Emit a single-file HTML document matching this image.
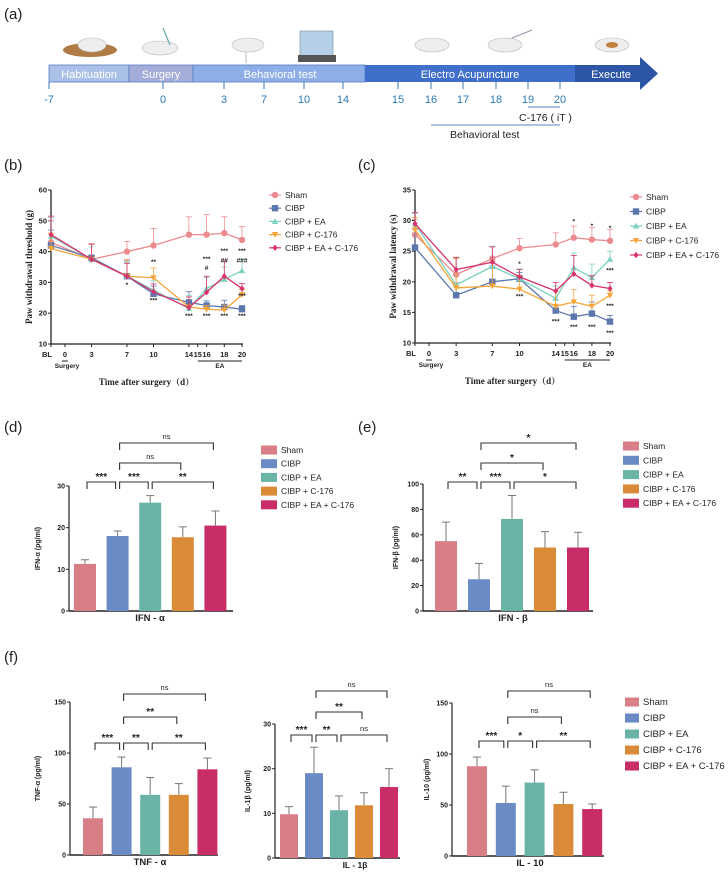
<!DOCTYPE html>
<html><head><meta charset="utf-8"><style>
html,body{margin:0;padding:0;background:#fff}
svg{display:block;font-family:"Liberation Sans",Arial,sans-serif}
</style></head><body>
<svg id="fig" width="728" height="876" viewBox="0 0 728 876" xmlns="http://www.w3.org/2000/svg">
<g>
<text x="4" y="19" font-size="15" fill="#222">(a)</text>
<g fill="#eeeeee" stroke="#bbb" stroke-width="0.6">
<ellipse cx="90" cy="50" rx="27" ry="7" fill="#b07a44" stroke="none"/>
<ellipse cx="92" cy="45" rx="14" ry="7"/>
<ellipse cx="160" cy="48" rx="18" ry="7"/>
<line x1="163" y1="28" x2="170" y2="45" stroke="#6aa" stroke-width="1.2"/>
<ellipse cx="248" cy="45" rx="16" ry="7"/>
<line x1="246" y1="52" x2="246" y2="63" stroke="#888"/>
<rect x="300" y="31" width="33" height="26" fill="#b5cfe6" stroke="#789"/>
<rect x="298" y="55" width="38" height="7" fill="#555" stroke="none"/>
<ellipse cx="432" cy="45" rx="17" ry="7"/>
<ellipse cx="505" cy="45" rx="17" ry="7"/>
<line x1="512" y1="38" x2="532" y2="30" stroke="#99a" stroke-width="1.2"/>
<ellipse cx="612" cy="45" rx="17" ry="7"/>
<ellipse cx="612" cy="45" rx="6" ry="3" fill="#c08040" stroke="none"/>
</g>
<rect x="49" y="65" width="80" height="17" fill="#aac0e8" stroke="#5a7cc0" stroke-width="0.8"/>
<rect x="129" y="65" width="64" height="17" fill="#a4acd9" stroke="#5a7cc0" stroke-width="0.8"/>
<rect x="193" y="65" width="172" height="17" fill="#8eaee8" stroke="#5a7cc0" stroke-width="0.8"/>
<rect x="365" y="65" width="210" height="17" fill="#3f6ecb"/>
<polygon points="575,65 640,65 640,57 658,73.5 640,90 640,82 575,82" fill="#2c55a6"/>
<g font-size="11" fill="#fff" text-anchor="middle">
<text x="89" y="78">Habituation</text>
<text x="161" y="78">Surgery</text>
<text x="280" y="78">Behavioral test</text>
<text x="470" y="78">Electro Acupuncture</text>
<text x="611" y="78">Execute</text>
</g>
<g id="tl-ticks"></g>
<line x1="528" y1="107" x2="560" y2="107" stroke="#5a7cc0" stroke-width="1"/>
<text x="519" y="121" font-size="10.5" fill="#222">C-176 ( iT )</text>
<line x1="431" y1="125" x2="560" y2="125" stroke="#7f9bd0" stroke-width="1.2"/>
<text x="450" y="138" font-size="10.5" fill="#222">Behavioral test</text>
</g>
<text x="4" y="170" font-size="15" fill="#222">(b)</text>
<text x="358" y="170" font-size="15" fill="#222">(c)</text>
<text x="4" y="432" font-size="15" fill="#222">(d)</text>
<text x="358" y="432" font-size="15" fill="#222">(e)</text>
<text x="4" y="662" font-size="15" fill="#222">(f)</text>
<g id="charts"></g>
</svg>
<script>
const tlDays = [-7,0,3,7,10,14,15,16,17,18,19,20];
const tlDayPx = [49,163,224,264,304,343,398,431,463,496,528,560];

const daysLabels = ["BL","0","3","7","10","14","15","16","18","20"];
const ptDays = [null,3,7,10,14,16,18,20];
const bSham = [43,37.5,40,42,45.5,45.5,46,43.8];
const bShamErr = [7,5,3.3,5.5,5.8,6.5,5.3,4.3];
const bCIBP = [42,38,32,26.3,23.5,22.5,22,21.3];
const bCIBPErr = [5,4.5,5,2.5,3.5,1.5,2.2,1.2];
const bEA = [45,37.5,32,27.5,21.5,28,31,33.8];
const bEAErr = [6,4,4.5,3,4.3,3.6,4,3.7];
const bC176 = [41,37.5,32,31.5,22,21.3,21,26];
const bC176Err = [5,4.8,5.4,3.2,3.3,1.2,1.6,1.7];
const bEAC = [45.5,37.5,32,27,21.8,26.8,32,28];
const bEACErr = [6,5,4.2,2.5,3.5,5.2,5,1.6];

const cSham = [27.7,21.2,23.8,25.5,26.1,27.2,26.9,26.7];
const cShamErr = [2.5,2.8,2,1.6,1.9,1.9,2,1.9];
const cCIBP = [25.6,17.8,20,20.5,15.3,14.3,14.8,13.5];
const cCIBPErr = [3,2,2.6,1,0.9,1.7,1.9,1];
const cEA = [29.5,19.5,22.5,20.5,17.3,22.3,20.7,23.7];
const cEAErr = [1.7,4.5,3.3,1.6,2,2.4,2.2,1.3];
const cC176 = [28.5,19,19.3,18.8,16,16.7,16,17.8];
const cC176Err = [2,4.8,4,2.3,2.6,2,1.8,0.7];
const cEAC = [29.5,22,23.2,20.8,18.5,21.3,19.4,18.9];
const cEACErr = [1.8,2,2.5,1.2,1.4,3,1.6,1];

const groups = ["Sham","CIBP","CIBP + EA","CIBP + C-176","CIBP + EA + C-176"];
const ifnA = [11.3,18,26,17.7,20.5];
const ifnAErr = [1,1.2,1.7,2.5,3.5];
const ifnB = [55,25,72.5,50,50];
const ifnBErr = [15,12.5,18.5,12.5,12];
const tnf = [36,86,59,59,84];
const tnfErr = [11,10,17,11,11];
const il1b = [9.8,19,10.7,11.8,15.9];
const il1bErr = [1.7,5.8,3.2,2.8,4.1];
const il10 = [88,52,72,51,46];
const il10Err = [9,16.5,12.5,11.5,5];

const NS = "http://www.w3.org/2000/svg";
function mk(tag, attrs, parent){ const e=document.createElementNS(NS,tag); for(const k in attrs) e.setAttribute(k,attrs[k]); if(parent) parent.appendChild(e); return e; }
function txt(parent, x, y, s, size, extra){ const t=mk('text',Object.assign({x:x,y:y,'font-size':size,fill:'#222'},extra||{}),parent); t.textContent=s; return t; }

const tl = document.getElementById('tl-ticks');
tlDays.forEach((d,i)=>{
  const x = tlDayPx[i];
  const l = mk('line',{x1:x,y1:82,x2:x,y2:89,stroke:'#3a7ab8','stroke-width':1},tl);
  
  
  const t = txt(tl,x,103,String(d),11,{'text-anchor':'middle',fill:'#2a7ab8'});
  
  
});

const charts = document.getElementById('charts');
const lineColors = ["#ea8b8f","#5c77ad","#7dd1bf","#f5a53c","#d7336c"];
const markers = ["circle","square","tri","tridown","diamond"];

function marker(g, type, x, y, c, s){
  let e;
  if(type==='circle') e=mk('circle',{cx:x,cy:y,r:s,fill:c},g);
  else if(type==='square') e=mk('rect',{x:x-s,y:y-s,width:2*s,height:2*s,fill:c},g);
  else if(type==='tri') e=mk('polygon',{points:`${x},${y-s} ${x+s},${y+s*0.8} ${x-s},${y+s*0.8}`,fill:c},g);
  else if(type==='tridown') e=mk('polygon',{points:`${x},${y+s} ${x+s},${y-s*0.8} ${x-s},${y-s*0.8}`,fill:c},g);
  else e=mk('polygon',{points:`${x},${y-s} ${x+s*0.8},${y} ${x},${y+s} ${x-s*0.8},${y}`,fill:c},g);
  return e;
}

function lineChart(cfg){
  const g = mk('g',{},charts);
  
  
  const yS = v => cfg.yBot - (v-cfg.vmin)/(cfg.vmax-cfg.vmin)*(cfg.yBot-cfg.yTop);
  const xS = d => d===null ? cfg.ax : cfg.x0 + d*cfg.perDay;
  mk('line',{x1:cfg.ax,y1:cfg.yTop,x2:cfg.ax,y2:cfg.yBot,stroke:'#222','stroke-width':1.3},g);
  mk('line',{x1:cfg.ax,y1:cfg.yBot,x2:xS(20)+1,y2:cfg.yBot,stroke:'#222','stroke-width':1.3},g);
  cfg.yTicks.forEach(v=>{
    const y=yS(v);
    mk('line',{x1:cfg.ax-3,y1:y,x2:cfg.ax,y2:y,stroke:'#222','stroke-width':1},g);
    const t=txt(g,cfg.ax-4,y+2.5,String(v),7.5,{'text-anchor':'end','font-weight':'bold'});
    
    
  });
  daysLabels.forEach(lbl=>{
    const x = lbl==='BL'? cfg.ax : xS(+lbl);
    mk('line',{x1:x,y1:cfg.yBot,x2:x,y2:cfg.yBot+3,stroke:'#222','stroke-width':1},g);
    const t=txt(g,lbl==='BL'?x-4:x,cfg.yBot+13,lbl,7.5,{'text-anchor':'middle','font-weight':'bold'});
    
    
  });
  mk('line',{x1:xS(0)-3,y1:cfg.yBot+17,x2:xS(0)+3,y2:cfg.yBot+17,stroke:'#222','stroke-width':1},g);
  txt(g,xS(0)+2,cfg.yBot+24,'Surgery',6.5,{'text-anchor':'middle','font-weight':'bold'});
  mk('line',{x1:xS(15),y1:cfg.yBot+17,x2:xS(20),y2:cfg.yBot+17,stroke:'#222','stroke-width':1},g);
  txt(g,(xS(15)+xS(20))/2,cfg.yBot+24,'EA',6.5,{'text-anchor':'middle','font-weight':'bold'});
  const xt=txt(g,(cfg.ax+xS(20))/2,cfg.yBot+41,'Time after surgery（d）',9,{'text-anchor':'middle','font-weight':'bold','font-family':'"Liberation Serif","Noto Serif CJK SC",serif'});
  
  
  const yt=txt(g,0,0,cfg.ytitle,9,{'text-anchor':'middle','font-weight':'bold','font-family':'"Liberation Serif",serif',transform:`translate(${cfg.ytx},${(cfg.yTop+cfg.yBot)/2}) rotate(-90)`});
  
  
  cfg.series.forEach((s,si)=>{
    const sg = mk('g',{},g);
    
    
    const c = lineColors[si];
    s.vals.forEach((v,i)=>{
      const x=xS(ptDays[i]), y=yS(v), ye=yS(v+s.err[i]);
      mk('line',{x1:x,y1:y,x2:x,y2:ye,stroke:c,'stroke-width':0.8},sg);
      mk('line',{x1:x-3,y1:ye,x2:x+3,y2:ye,stroke:c,'stroke-width':0.8},sg);
    });
    const pts = s.vals.map((v,i)=>`${xS(ptDays[i])},${yS(v)}`).join(' ');
    const pl = mk('polyline',{points:pts,fill:'none',stroke:c,'stroke-width':1.3},sg);
    
    
    s.vals.forEach((v,i)=>{
      const m = marker(sg,markers[si],xS(ptDays[i]),yS(v),c,3.2);
      
      
    });
  });
  (cfg.sig||[]).forEach(a=>{
    const t=txt(g,xS(a[0]),yS(a[1]),a[2],6.5,{'text-anchor':'middle','font-weight':'bold'});
    
    
  });
  const lg = mk('g',{},g);
  
  
  groups.forEach((n,i)=>{
    const y = cfg.legY + i*cfg.legDy;
    mk('line',{x1:cfg.legX-6,y1:y,x2:cfg.legX+6,y2:y,stroke:lineColors[i],'stroke-width':1.2},lg);
    marker(lg,markers[i],cfg.legX,y,lineColors[i],3.2);
    const t=txt(lg,cfg.legX+10,y+3,n,8.5,{});
    
    
  });
}

const mkSeries = (a,b,c,d,e,ae,be,ce,de,ee)=>[{vals:a,err:ae},{vals:b,err:be},{vals:c,err:ce},{vals:d,err:de},{vals:e,err:ee}];

lineChart({name:'withdrawal-threshold-chart',ax:51,x0:65,perDay:8.85,yTop:190,yBot:344,vmin:10,vmax:60,yTicks:[10,20,30,40,50,60],
  ytitle:'Paw withdrawal threshold (g)',ytx:32,legX:275,legY:195,legDy:13.2,
  series:mkSeries(bSham,bCIBP,bEA,bC176,bEAC,bShamErr,bCIBPErr,bEAErr,bC176Err,bEACErr),
  sig:[[7,28.5,'*'],[10,36,'**'],[10,23.5,'***'],[14,18.5,'***'],[16,18.5,'***'],[16,37,'***'],[16,34,'#'],[18,18.5,'***'],[18,39.5,'***'],[18,36.5,'##'],[20,18.5,'***'],[20,39.5,'***'],[20,36.5,'###'],[20,25,'***']]});

lineChart({name:'withdrawal-latency-chart',ax:415,x0:429,perDay:9.05,yTop:190,yBot:343,vmin:10,vmax:35,yTicks:[10,15,20,25,30,35],
  ytitle:'Paw withdrawal latency (s)',ytx:396,legX:636,legY:197,legDy:14.5,
  series:mkSeries(cSham,cCIBP,cEA,cC176,cEAC,cShamErr,cCIBPErr,cEAErr,cC176Err,cEACErr),
  sig:[[10,22.6,'*'],[10,17.3,'***'],[14,13.2,'***'],[16,12.3,'***'],[16,29.5,'*'],[18,12.3,'***'],[18,28.8,'*'],[20,28.5,'*'],[20,21.5,'***'],[20,15.7,'***'],[20,11.3,'***']]});

const barColors = ["#d87e86","#6a8bc6","#69b4a6","#d98b38","#c92d68"];
function barChart(cfg){
  const g = mk('g',{},charts);
  
  
  const yS = v => cfg.yBot - v/cfg.vmax*(cfg.yBot-cfg.yTop);
  const cx = i => cfg.left + i*cfg.pitch + cfg.bw/2;
  mk('line',{x1:cfg.ax,y1:cfg.yTop,x2:cfg.ax,y2:cfg.yBot,stroke:'#222','stroke-width':1.2},g);
  mk('line',{x1:cfg.ax,y1:cfg.yBot,x2:cfg.xEnd,y2:cfg.yBot,stroke:'#222','stroke-width':1.6},g);
  cfg.ticks.forEach(v=>{
    const y=yS(v);
    mk('line',{x1:cfg.ax-3,y1:y,x2:cfg.ax,y2:y,stroke:'#222','stroke-width':1},g);
    const t=txt(g,cfg.ax-4,y+2.5,String(v),7,{'text-anchor':'end','font-weight':'bold'});
    
    
  });
  cfg.vals.forEach((v,i)=>{
    const x=cfg.left+i*cfg.pitch, y=yS(v), ye=yS(v+cfg.err[i]);
    const eb=mk('line',{x1:cx(i),y1:y,x2:cx(i),y2:ye,stroke:'#777','stroke-width':1},g);
    
    
    mk('line',{x1:cx(i)-4,y1:ye,x2:cx(i)+4,y2:ye,stroke:'#777','stroke-width':1},g);
    const r=mk('rect',{x:x,y:y,width:cfg.bw,height:cfg.yBot-y,fill:barColors[i]},g);
    
    
  });
  const xt=txt(g,cfg.xlabX,cfg.yBot+10,cfg.xlabel,cfg.xlabSize||9.5,{'text-anchor':'middle','font-weight':'bold'});
  
  
  const yt=txt(g,0,0,cfg.ytitle,7,{'text-anchor':'middle','font-weight':'bold',transform:`translate(${cfg.ytx},${(cfg.yTop+cfg.yBot)/2}) rotate(-90)`});
  
  
  cfg.brackets.forEach(b=>{
    const [i,j,y,lab] = b;
    const x1=cx(i)+2, x2=cx(j)-2;
    const p=mk('polyline',{points:`${x1},${y+7} ${x1},${y} ${x2},${y} ${x2},${y+7}`,fill:'none',stroke:'#333','stroke-width':1.1},g);
    
    
    const ns = lab==='ns';
    const t=txt(g,(x1+x2)/2,ns?y-4:y-2,lab,ns?7.5:10,{'text-anchor':'middle','font-weight':ns?'normal':'bold'});
    
    
  });
  if(cfg.legX){
    const lg=mk('g',{},g);
    
    
    groups.forEach((n,i)=>{
      const y=cfg.legY+i*cfg.legDy;
      mk('rect',{x:cfg.legX,y:y-4.5,width:cfg.legW,height:9,fill:barColors[i]},lg);
      const t=txt(lg,cfg.legX+cfg.legW+4,y+3,n,cfg.legSize,{});
      
      
    });
  }
}

barChart({name:'ifn-alpha-chart',ax:69,xEnd:233,yTop:486,yBot:611,vmax:30,ticks:[0,10,20,30],left:74,pitch:32.6,bw:22,
  vals:ifnA,err:ifnAErr,xlabel:'IFN - α',xlabX:150,ytitle:'IFN-α (pg/ml)',ytx:40,
  brackets:[[1,4,443,'ns'],[1,3,463,'ns'],[0,1,482,'***'],[1,2,482,'***'],[2,4,482,'**']],
  legX:261,legY:450,legDy:13.7,legW:16,legSize:8.5});
barChart({name:'ifn-beta-chart',ax:423,xEnd:593,yTop:484,yBot:611,vmax:100,ticks:[0,20,40,60,80,100],left:435,pitch:33,bw:22,
  vals:ifnB,err:ifnBErr,xlabel:'IFN - β',xlabX:513,ytitle:'IFN-β (pg/ml)',ytx:398,
  brackets:[[1,4,443,'*'],[1,3,463,'*'],[0,1,482,'**'],[1,2,482,'***'],[2,4,482,'*']],
  legX:623,legY:446,legDy:14.3,legW:16,legSize:8.5});
barChart({name:'tnf-alpha-chart',ax:70,xEnd:218,yTop:702,yBot:855,vmax:150,ticks:[0,50,100,150],left:83,pitch:28.6,bw:20,
  vals:tnf,err:tnfErr,xlabel:'TNF - α',xlabX:150,ytitle:'TNF-α (pg/ml)',ytx:40,
  brackets:[[1,4,694,'ns'],[1,3,717,'**'],[0,1,743,'***'],[1,2,743,'**'],[2,4,743,'**']]});
barChart({name:'il-1beta-chart',ax:275,xEnd:400,yTop:724,yBot:858,vmax:30,ticks:[0,10,20,30],left:280,pitch:25,bw:18,
  vals:il1b,err:il1bErr,xlabel:'IL - 1β',xlabX:355,xlabSize:8.5,ytitle:'IL-1β (pg/ml)',ytx:250,
  brackets:[[1,4,691,'ns'],[1,3,712,'**'],[0,1,735,'***'],[1,2,735,'**'],[2,4,735,'ns']]});
barChart({name:'il-10-chart',ax:452,xEnd:604,yTop:703,yBot:856,vmax:150,ticks:[0,50,100,150],left:467,pitch:28.8,bw:20,
  vals:il10,err:il10Err,xlabel:'IL - 10',xlabX:530,ytitle:'IL-10 (pg/ml)',ytx:429,
  brackets:[[1,4,691,'ns'],[1,3,717,'ns'],[0,1,741,'***'],[1,2,741,'*'],[2,4,741,'**']],
  legX:625,legY:702,legDy:16,legW:14,legSize:9.5});
</script>
</body></html>
